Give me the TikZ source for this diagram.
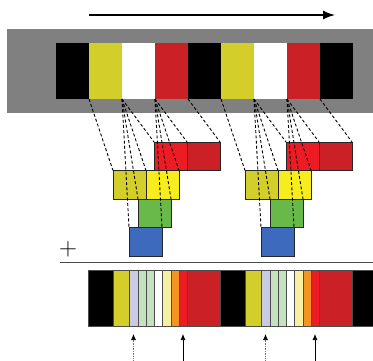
\documentclass[tikz,border=0pt]{standalone}
\usepackage{xcolor}
\usepackage{tikz}
\usetikzlibrary{arrows, arrows.meta, positioning}
\definecolor{bandgray}{RGB}{128,128,128}
\definecolor{stripeyellow}{RGB}{211,206,42}
\definecolor{stripered}{RGB}{204,32,39}
\definecolor{brightred}{RGB}{237,28,36}
\definecolor{brightyellow}{RGB}{247,236,30}
\definecolor{leafgreen}{RGB}{104,184,74}
\definecolor{deepblue}{RGB}{62,106,190}
\definecolor{lavender}{RGB}{201,203,229}
\definecolor{palegreen}{RGB}{196,226,192}
\definecolor{paleyellow}{RGB}{246,240,160}
\definecolor{warmorange}{RGB}{245,148,32}
\tikzstyle{stripe}=[rectangle, inner sep=0pt, outer sep=0pt, minimum height=56, anchor=north west]
\tikzstyle{bar}=[stripe, draw=black!70, line width=0.4pt]
\tikzstyle{block}=[rectangle, draw=black!85, line width=0.6pt, inner sep=0pt, outer sep=0pt, minimum width=33, minimum height=28.5, anchor=north west]
\tikzstyle{ray}=[line width=0.9pt, dash pattern=on 3pt off 2.2pt]
\tikzstyle{probe}=[line width=0.7pt, -{Latex[length=6pt, width=5pt, black]}]

\begin{document}
\begin{tikzpicture}[x=1pt, y=-1pt]
	\useasboundingbox (0,0) rectangle (373,360);
	\coordinate (dirA) at (89,15);
	\coordinate (dirB) at (335,15);
	\draw[line width=1.4pt, -{Latex[length=12pt, width=9pt]}] (dirA) -- (dirB);
	\node[stripe, fill=bandgray, minimum width=366, minimum height=84] (band) at (7,29) {};
	\foreach \c [count=\i from 0] in {black, stripeyellow, white, stripered, black, stripeyellow, white, stripered, black}
		\node[stripe, fill=\c, minimum width=33] (s\i) at ({56+33*\i},43) {};
	\foreach \g in {0,1}{
		\pgfmathsetmacro{\sh}{132*\g}
		\node[block, fill=brightred] (red\g) at ({154+\sh},142) {};
		\node[block, fill=stripered] (dred\g) at ({187+\sh},142) {};
		\node[block, fill=stripeyellow] (oliv\g) at ({113+\sh},170.5) {};
		\node[block, fill=brightyellow] (yel\g) at ({146+\sh},170.5) {};
		\node[block, fill=leafgreen] (grn\g) at ({138+\sh},199) {};
		\node[block, fill=deepblue] (blu\g) at ({129+\sh},227.5) {};
	}
	\foreach \g in {0,1}{
		\pgfmathtruncatemacro{\ys}{1+4*\g}
		\pgfmathtruncatemacro{\ws}{2+4*\g}
		\pgfmathtruncatemacro{\rs}{3+4*\g}
		\draw[ray] (s\ys.south west) -- (oliv\g.north west);
		\foreach \k in {red,yel,grn,blu}{
			\draw[ray] (s\ws.south west) -- (\k\g.north west);
			\draw[ray] (s\ws.south east) -- (\k\g.north east);
		}
		\draw[ray] (s\rs.south east) -- (dred\g.north east);
	}
	\node (plus) at (68,249) {\fontsize{24}{24}\selectfont$+$};
	\coordinate (sepL) at (60,262);
	\coordinate (sepR) at (373,262);
	\draw[line width=0.9pt, black!70] (sepL) -- (sepR);
	\foreach \p in {0,1}
		\foreach \l/\w/\c [count=\k] in {88/25/black, 113/16/stripeyellow, 129/9/lavender, 138/8/palegreen, 146/8/palegreen, 154/8/white, 162/9/paleyellow, 171/8/warmorange, 179/8/brightred, 187/33/stripered}
			\node[bar, fill=\c, minimum width=\w] (m\p\k) at ({\l+132*\p},270) {};
	\node[bar, fill=black, minimum width=22] (mend) at (352,270) {};
	\foreach \p in {0,1}{
		\coordinate (dot\p) at (m\p3.south |- 0,362);
		\coordinate (sol\p) at (m\p9.south |- 0,362);
		\draw[probe, black!55, dash pattern=on 0.8pt off 0.9pt] (dot\p) -- ([yshift=-8pt]m\p3.south);
		\draw[probe] (sol\p) -- ([yshift=-8pt]m\p9.south);
	}
\end{tikzpicture}
\end{document}
